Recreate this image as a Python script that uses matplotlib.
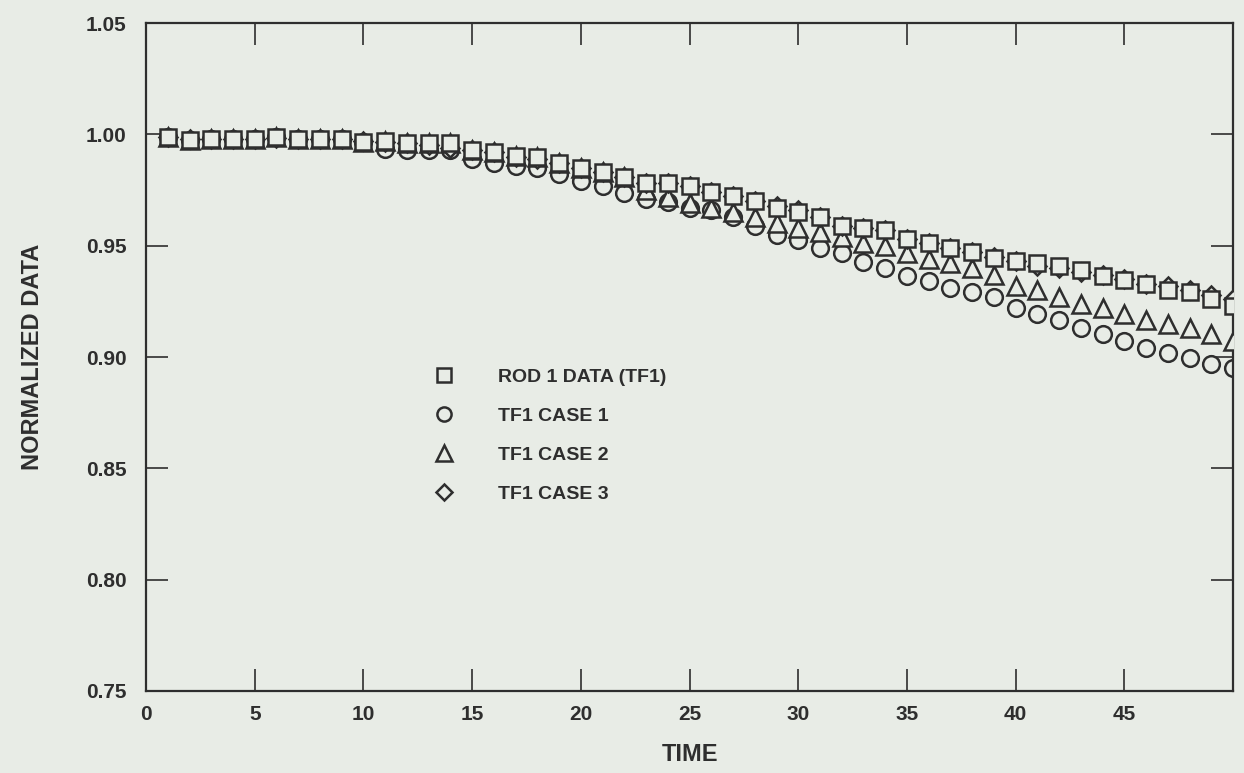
import numpy as np
import matplotlib.pyplot as plt

# time points
t = np.arange(1, 51)

# ROD 1 DATA (TF1) - squares
rod1 = [0.9988, 0.9975, 0.998, 0.998, 0.998, 0.9988, 0.998, 0.998, 0.998, 0.9965,
        0.997, 0.996, 0.996, 0.996, 0.993, 0.992, 0.9905, 0.990, 0.987, 0.985,
        0.983, 0.981, 0.978, 0.978, 0.977, 0.974, 0.9725, 0.970, 0.967, 0.965,
        0.963, 0.959, 0.958, 0.957, 0.953, 0.951, 0.949, 0.947, 0.9445, 0.9433,
        0.942, 0.941, 0.939, 0.9366, 0.9344, 0.933, 0.930, 0.929, 0.926, 0.923]

# TF1 CASE 1 - circles
case1 = [0.9988, 0.9975, 0.998, 0.998, 0.998, 0.9988, 0.998, 0.998, 0.998, 0.9965,
         0.9935, 0.993, 0.993, 0.993, 0.989, 0.987, 0.986, 0.985, 0.982, 0.979,
         0.977, 0.9735, 0.971, 0.9695, 0.967, 0.966, 0.963, 0.959, 0.955, 0.9525,
         0.949, 0.9465, 0.9425, 0.940, 0.9365, 0.934, 0.931, 0.929, 0.927, 0.922,
         0.9195, 0.9165, 0.913, 0.9105, 0.907, 0.904, 0.902, 0.8997, 0.897, 0.895]

# TF1 CASE 2 - triangles
case2 = [0.9988, 0.9975, 0.998, 0.998, 0.998, 0.9988, 0.998, 0.998, 0.998, 0.9965,
         0.997, 0.996, 0.996, 0.996, 0.993, 0.992, 0.9905, 0.990, 0.987, 0.985,
         0.983, 0.981, 0.975, 0.972, 0.969, 0.967, 0.965, 0.963, 0.960, 0.958,
         0.956, 0.954, 0.951, 0.950, 0.9465, 0.944, 0.942, 0.940, 0.937, 0.932,
         0.930, 0.927, 0.924, 0.922, 0.9195, 0.9165, 0.915, 0.913, 0.9105, 0.907]

# TF1 CASE 3 - diamonds
case3 = [0.9988, 0.9978, 0.998, 0.998, 0.998, 0.9985, 0.998, 0.998, 0.9978, 0.997,
         0.9965, 0.996, 0.995, 0.994, 0.993, 0.992, 0.990, 0.989, 0.987, 0.985,
         0.983, 0.981, 0.978, 0.978, 0.977, 0.974, 0.9725, 0.970, 0.968, 0.966,
         0.963, 0.959, 0.958, 0.957, 0.953, 0.951, 0.949, 0.947, 0.945, 0.943,
         0.941, 0.940, 0.938, 0.937, 0.935, 0.933, 0.932, 0.930, 0.928, 0.926]

labels = ['ROD 1 DATA (TF1)', 'TF1 CASE 1', 'TF1 CASE 2', 'TF1 CASE 3']
xticks = [0, 5, 10, 15, 20, 25, 30, 35, 40, 45]
yticks = [0.75, 0.80, 0.85, 0.90, 0.95, 1.00, 1.05]

paper = '#e8ece6'
ink = '#2e2e2e'
narrow = ['Liberation Sans Narrow', 'Liberation Sans']

fig = plt.figure(figsize=(12.44, 7.73), dpi=100, facecolor=paper)
ax = fig.add_axes([0.1174, 0.1061, 0.8738, 0.8641], facecolor=paper)

ms = 12
kw = dict(linestyle='none', markerfacecolor=paper, markeredgecolor=ink,
          markeredgewidth=1.8)
ax.plot(t, case1, marker='o', markersize=ms, zorder=2, label=labels[1], **kw)
ax.plot(t, case2, marker='^', markersize=ms + 1, zorder=3, label=labels[2], **kw)
ax.plot(t, case3, marker='D', markersize=ms - 2.5, zorder=4, label=labels[3], **kw)
ax.plot(t, rod1, marker='s', markersize=ms, zorder=5, label=labels[0], **kw)

ax.set_xlim(0, 50)
ax.set_ylim(0.75, 1.05)
ax.set_xticks(xticks)
ax.set_yticks(yticks)
ax.set_yticklabels(['%.2f' % v for v in yticks])

ax.tick_params(direction='in', length=16, width=1.2, color=ink,
               top=True, right=True, labelsize=15, labelcolor=ink)
ax.tick_params(axis='y', pad=14)
ax.tick_params(axis='x', pad=10)
for lab in ax.get_xticklabels() + ax.get_yticklabels():
    lab.set_fontfamily('Liberation Sans')
    lab.set_fontweight('bold')
for sp in ax.spines.values():
    sp.set_color(ink)
    sp.set_linewidth(1.6)

ax.set_xlabel('TIME', fontsize=17, color=ink, family=narrow,
              fontweight='bold', labelpad=14)
ax.set_ylabel('NORMALIZED DATA', fontsize=17, color=ink,
              family=narrow, fontweight='bold', labelpad=30)

# legend in the order of the reference
handles, labs = ax.get_legend_handles_labels()
order = [labs.index(l) for l in labels]
leg = ax.legend([handles[i] for i in order], [labs[i] for i in order],
                loc='upper left', bbox_to_anchor=(0.247, 0.509), frameon=False,
                markerscale=0.85, handlelength=1.2, handletextpad=2.2,
                labelspacing=1.1, prop={'family': 'Liberation Sans', 'weight': 'bold', 'size': 14})
for txt in leg.get_texts():
    txt.set_color(ink)

fig.savefig('out.png', dpi=100, facecolor=paper)
